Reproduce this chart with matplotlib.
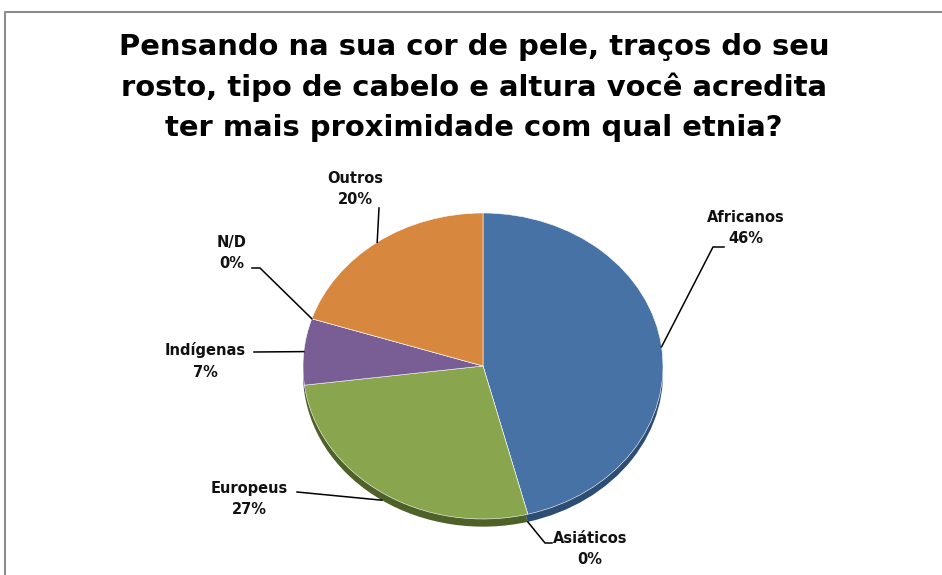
import numpy as np
import matplotlib
matplotlib.use("Agg")
import matplotlib.pyplot as plt
from matplotlib.lines import Line2D

categories = ["Africanos", "Asiáticos", "Europeus", "Indígenas", "N/D", "Outros"]
values = [46, 0, 27, 7, 0, 20]
colors = ["#4672A6", "#AA4643", "#89A54E", "#785E95", "#4198AF", "#D8873F"]
shade = ["#2E4D73", "#7A2E2C", "#4E6129", "#4B3A5E", "#2A6373", "#8F5626"]
title_lines = ["Pensando na sua cor de pele, traços do seu",
               "rosto, tipo de cabelo e altura você acredita",
               "ter mais proximidade com qual etnia?"]

# label centre positions in pixels (x, y from top)
label_px = {
    "Africanos": (746, 228),
    "Asiáticos": (590, 549),
    "Europeus": (249, 499),
    "Indígenas": (205, 361),
    "N/D": (232, 253),
    "Outros": (355, 189),
}
# elbow points of leader lines in pixels
elbow_px = {
    "Africanos": [(713, 247), (724, 247)],
    "Asiáticos": [(545, 543), (552, 543)],
    "Europeus": [(297, 492)],
    "Indígenas": [(254, 352)],
    "N/D": [(260, 268), (252, 268)],
    "Outros": [(379, 208)],
}

W, H = 942, 575
fig = plt.figure(figsize=(W / 100, H / 100), dpi=100)
fig.patch.set_facecolor("white")
FONT = "DejaVu Sans"

cx, cy, rx, ry = 483, 366, 180, 153
ax = fig.add_axes([(cx - rx) / W, (H - cy - ry) / H, 2 * rx / W, 2 * ry / H])

# depth layer
ax.pie(values, colors=shade, startangle=90, counterclock=False, center=(0, -0.05),
       wedgeprops=dict(linewidth=0))
wedges, _ = ax.pie(values, colors=colors, startangle=90, counterclock=False,
                   wedgeprops=dict(linewidth=0.4, edgecolor="white"))
ax.set_aspect("auto")
ax.set_xlim(-1, 1)
ax.set_ylim(-1, 1)
ax.axis("off")


def to_fig(px, py):
    return px / W, 1 - py / H


for w, name in zip(wedges, categories):
    ang = np.deg2rad((w.theta1 + w.theta2) / 2)
    xd, yd = np.cos(ang), np.sin(ang)
    if yd < -0.5:
        yd -= 0.05
    disp = ax.transData.transform((xd, yd))
    fx, fy = fig.transFigure.inverted().transform(disp)
    pts = [(fx, fy)] + [to_fig(*p) for p in elbow_px[name]]
    fig.add_artist(Line2D([p[0] for p in pts], [p[1] for p in pts], color="black", lw=1.1))
    pct = values[categories.index(name)]
    lx, ly = to_fig(*label_px[name])
    fig.text(lx, ly, f"{name}\n{pct}%", ha="center", va="center", fontsize=10.5,
             fontweight="bold", family=FONT, color="#111111", linespacing=1.55)

# title: fit first line to its width in the reference
renderer = fig.canvas.get_renderer()
title_ys = [47, 87, 128]
probe = fig.text(0, 0, title_lines[0], fontsize=20, fontweight="bold", family=FONT)
width = probe.get_window_extent(renderer).width
probe.remove()
tsize = 20 * 712 / width
for line, y in zip(title_lines, title_ys):
    fig.text(474 / W, 1 - y / H, line, ha="center", va="center", fontsize=tsize,
             fontweight="bold", family=FONT)

# chart border
fig.add_artist(Line2D([5 / W, 5 / W, 1], [0, 1 - 12 / H, 1 - 12 / H], color="#8C8C8C", lw=1.5))

fig.savefig("out.png", dpi=100, facecolor="white")
